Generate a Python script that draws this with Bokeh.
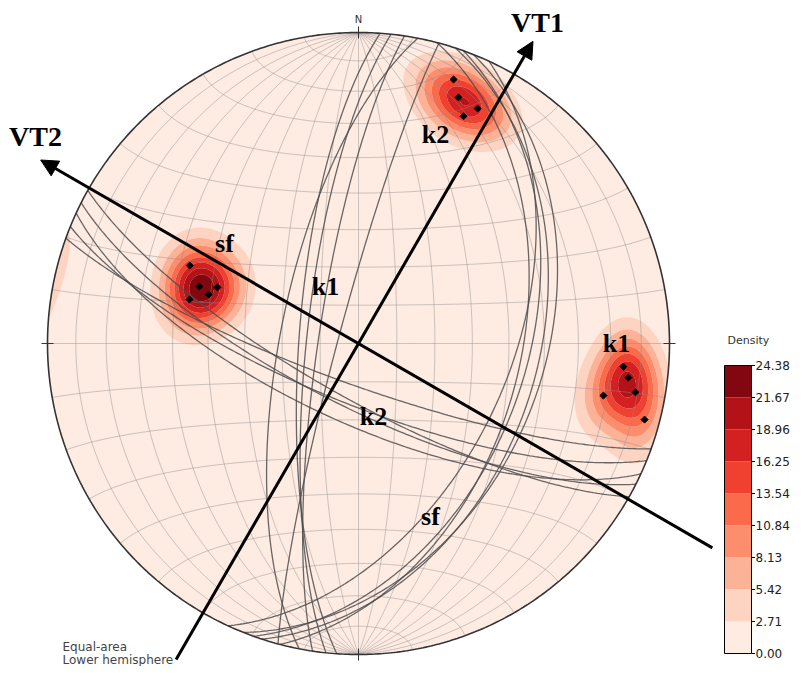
import numpy as np
from bokeh.plotting import figure
from bokeh.models import Range1d, Arrow, NormalHead
from bokeh.embed import file_html
from bokeh.resources import INLINE
from bokeh.core.properties import value

# ---------------- data ----------------
# poles (trend, plunge in degrees) shown as black diamonds
sf_pole_trend = [294.8, 289.7, 288.1, 291.7, 284.6]
sf_pole_plunge = [40.0, 44.8, 48.0, 49.6, 43.2]
k1_pole_trend = [95.0, 97.2, 100.0, 102.0, 104.9]
k1_pole_plunge = [15.6, 13.6, 10.5, 20.6, 5.4]
k2_pole_trend = [19.8, 22.1, 26.9, 24.8]
k2_pole_plunge = [10.7, 15.7, 16.4, 20.6]

# planes (strike, right-hand rule, and dip) shown as great circles
sf_strike = [24.8, 19.7, 18.1, 21.7, 14.6]
sf_dip = [50.0, 45.2, 42.0, 40.4, 46.8]
k1_strike = [184.0, 186.0, 188.5, 191.0, 195.0]
k1_dip = [74.4, 76.4, 79.5, 69.4, 84.6]
k2_strike = [109.8, 112.1, 116.9, 114.8, 119.5]
k2_dip = [79.3, 74.3, 73.6, 69.4, 76.0]

density_levels = [0.00, 2.71, 5.42, 8.13, 10.84, 13.54, 16.25, 18.96, 21.67, 24.38]
density_colors = ["#feebe2", "#fdd4c2", "#fcb297", "#fc8e6e", "#fb6a4a",
                  "#f0402f", "#d32020", "#b21218", "#820711"]

vt_names = ["VT1", "VT2"]
vt_azimuth = [30.0, 300.0]

grid_step = 10

# ---------------- layout helpers ----------------
CX, CY, RP = 358.0, 343.0, 311.0          # centre / radius of the net in pixels
W, H = 790, 666


def d(px, py):
    return (px - CX) / RP, (CY - py) / RP


x0, y1 = d(0, 0)
x1, y0 = d(W, H)

p = figure(width=W, height=H, output_backend="svg", toolbar_location=None,
           x_range=Range1d(x0, x1), y_range=Range1d(y0, y1),
           x_axis_location=None, y_axis_location=None, min_border=0)
p.grid.visible = False
p.outline_line_color = None
p.background_fill_color = "white"
p.border_fill_color = "white"


# ---------------- stereonet math (lower hemisphere, equal area) ----------------
def to_vec(trend, plunge):
    t = np.radians(np.asarray(trend, float))
    pl = np.radians(np.asarray(plunge, float))
    return np.stack([np.cos(pl) * np.sin(t), np.cos(pl) * np.cos(t), np.sin(pl)], axis=-1)


def project(v):
    v = np.asarray(v, float)
    v = np.where(v[..., 2:3] < 0, -v, v)
    s = np.sqrt(1.0 + v[..., 2])
    return v[..., 0] / s, v[..., 1] / s


def plane_curve(strike, dip, n=241):
    s = np.radians(strike)
    dp = np.radians(dip)
    dd = s + np.pi / 2
    sv = np.array([np.sin(s), np.cos(s), 0.0])
    dv = np.array([np.cos(dp) * np.sin(dd), np.cos(dp) * np.cos(dd), np.sin(dp)])
    t = np.linspace(0, np.pi, n)
    v = np.outer(np.cos(t), sv) + np.outer(np.sin(t), dv)
    return project(v)


th = np.linspace(0, 2 * np.pi, 721)
cxs, cys = np.sin(th), np.cos(th)

# background of the net (lowest band)
p.patch(cxs, cys, fill_color=density_colors[0], line_color=None)

# ---------------- density (exponential kernel on the sphere) ----------------
pole_trend = sf_pole_trend + k1_pole_trend + k2_pole_trend
pole_plunge = sf_pole_plunge + k1_pole_plunge + k2_pole_plunge
P = to_vec(pole_trend, pole_plunge)

g = np.linspace(-1.03, 1.03, 261)
GX, GY = np.meshgrid(g, g)
R2 = GX ** 2 + GY ** 2
sc = np.where(R2 > 1, 1 / np.sqrt(np.maximum(R2, 1e-12)), 1.0)
gx, gy = GX * sc, GY * sc
r2 = np.minimum(gx ** 2 + gy ** 2, 1.0)
Dz = 1 - r2
V = np.stack([gx * np.sqrt(1 + Dz), gy * np.sqrt(1 + Dz), Dz], axis=-1).reshape(-1, 3)
kappa = 85.0
cosd = np.abs(V @ P.T)
dens = np.exp(kappa * (cosd - 1)).sum(axis=1).reshape(GX.shape)
dens = dens / dens.max() * density_levels[-1] * 0.9999

p.contour(x=g, y=g, z=dens, levels=density_levels, fill_color=density_colors)

# white mask outside the primitive circle
big = 3.0
p.multi_polygons(xs=[[[[-big, big, big, -big], list(cxs)]]],
                 ys=[[[[-big, -big, big, big], list(cys)]]],
                 fill_color="white", line_color=None)

# ---------------- grid ----------------
a = np.radians(np.linspace(-90, 90, 361))
gxs, gys = [], []
for k in range(-90 + grid_step, 90, grid_step):
    r = np.radians(k)
    v = np.stack([np.cos(a) * np.sin(r), np.sin(a), np.cos(a) * np.cos(r)], -1)
    x, y = project(v)
    gxs.append(x); gys.append(y)
    v = np.stack([np.cos(r) * np.sin(a), np.full_like(a, np.sin(r)), np.cos(r) * np.cos(a)], -1)
    x, y = project(v)
    gxs.append(x); gys.append(y)
p.multi_line(gxs, gys, line_color="#8c8c8c", line_alpha=0.45, line_width=1)

# ---------------- great circles ----------------
pxs, pys = [], []
for s_, d_ in zip(sf_strike + k1_strike + k2_strike, sf_dip + k1_dip + k2_dip):
    x, y = plane_curve(s_, d_)
    pxs.append(x); pys.append(y)
p.multi_line(pxs, pys, line_color="#4d4d4d", line_alpha=0.85, line_width=1.3)

# ---------------- poles ----------------
px_, py_ = project(P)
p.scatter(px_, py_, marker="square", angle=np.pi / 4, size=5, color="black")

# primitive circle and cardinal ticks
p.line(cxs, cys, line_color="#333333", line_width=1.6)
card = np.radians([0, 90, 180, 270])
tl = 6.0 / RP
p.segment(x0=(1 - tl) * np.sin(card), y0=(1 - tl) * np.cos(card),
          x1=(1 + tl) * np.sin(card), y1=(1 + tl) * np.cos(card),
          line_color="#333333", line_width=1)
nx, ny = d(358, 19)
p.text(x=[nx], y=[ny], text=["N"], text_font=value("DejaVu Sans"), text_font_size="10px",
       text_color="#333333", text_align="center", text_baseline="middle")

# ---------------- VT arrows ----------------
tip_len = [1.122, 1.18]
tail_len = [1.173, 1.314]
for az, tl_, tt_ in zip(vt_azimuth, tip_len, tail_len):
    ar = np.radians(az)
    p.add_layout(Arrow(end=NormalHead(size=17, fill_color="black", line_color="black"),
                       x_start=-tt_ * np.sin(ar), y_start=-tt_ * np.cos(ar),
                       x_end=tl_ * np.sin(ar), y_end=tl_ * np.cos(ar),
                       line_width=3, line_color="black"))

lab_pos = [d(537, 22), d(35, 136)]
p.text(x=[q[0] for q in lab_pos], y=[q[1] for q in lab_pos], text=vt_names,
       text_font=value("Liberation Serif"), text_font_style="bold", text_font_size="28px",
       text_color="black", text_align="center", text_baseline="middle")

fam_text = ["k2", "sf", "k1", "k1", "k2", "sf"]
fam_pos = [d(435, 134), d(224, 243), d(616, 343), d(325, 286), d(373, 416), d(430, 516)]
p.text(x=[q[0] for q in fam_pos], y=[q[1] for q in fam_pos], text=fam_text,
       text_font=value("Liberation Serif"), text_font_style="bold", text_font_size="26px",
       text_color="black", text_align="center", text_baseline="middle")

# ---------------- Equal-area caption ----------------
ex, ey1 = d(62, 646)
_, ey2 = d(62, 659)
p.text(x=[ex, ex], y=[ey1, ey2], text=["Equal-area", "Lower hemisphere"],
       text_font=value("DejaVu Sans"), text_font_size="12px", text_color="#444444",
       text_align="left", text_baseline="alphabetic")

# ---------------- colour bar ----------------
cb_l, cb_t = d(724, 365)
cb_r, cb_b = d(751, 653)
lv = np.asarray(density_levels)


def cb_y(v):
    return cb_b + (np.asarray(v) - lv[0]) / (lv[-1] - lv[0]) * (cb_t - cb_b)


p.quad(left=cb_l, right=cb_r, bottom=cb_y(lv[:-1]), top=cb_y(lv[1:]),
       fill_color=density_colors, line_color=None)
p.line([cb_l, cb_r, cb_r, cb_l, cb_l], [cb_b, cb_b, cb_t, cb_t, cb_b],
       line_color="black", line_width=1)
tk = 3.5 / RP
p.segment(x0=cb_r, x1=cb_r + tk, y0=cb_y(lv), y1=cb_y(lv), line_color="black", line_width=1)
lx, _ = d(755, 0)
p.text(x=lx, y=cb_y(lv), text=[f"{v:.2f}" for v in density_levels],
       text_font=value("DejaVu Sans"), text_font_size="12px", text_color="#222222",
       text_align="left", text_baseline="middle")
tx, ty = d(727, 340)
p.text(x=[tx], y=[ty], text=["Density"], text_font=value("DejaVu Sans"), text_font_size="11px",
       text_color="#333333", text_align="left", text_baseline="middle")

open("out.html", "w").write(file_html(p, INLINE))
